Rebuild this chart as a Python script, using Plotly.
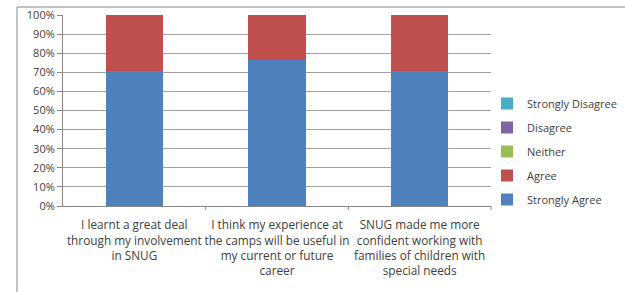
import plotly.graph_objects as go

categories = [
    "I learnt a great deal<br>through my involvement<br>in SNUG",
    "I think my experience at<br>the camps will be useful in<br>my current or future<br>career",
    "SNUG made me more<br>confident working with<br>families of children with<br>special needs",
]
strongly_agree = [0.706, 0.765, 0.706]
agree = [0.294, 0.235, 0.294]
neither = [0, 0, 0]
disagree = [0, 0, 0]
strongly_disagree = [0, 0, 0]

series = [
    ("Strongly Agree", strongly_agree, "#4F81BD"),
    ("Agree", agree, "#C0504D"),
    ("Neither", neither, "#9BBB59"),
    ("Disagree", disagree, "#8064A2"),
    ("Strongly Disagree", strongly_disagree, "#4BACC6"),
]

fig = go.Figure()
for i, (name, vals, col) in enumerate(series):
    fig.add_trace(go.Bar(x=categories, y=vals, name=name, marker_color=col,
                         marker_line_width=0, legendgroup=name,
                         legendrank=len(series) - i))

W, H = 625, 292
L, R, T, B = 63, 0, 15, 86
PR = 491  # plot right edge in px
pw, ph = W - L - R, H - T - B
dom = (PR - L) / pw

def px(x):
    return (x - L) / pw

def py(y):
    return (H - B - y) / ph

GRID = "#A0A0A0"
fig.update_layout(
    width=W, height=H,
    margin=dict(l=L, r=R, t=T, b=B, autoexpand=False),
    barmode="stack", bargap=0.6, hovermode=False,
    plot_bgcolor="white", paper_bgcolor="white",
    font=dict(family="Open Sans, Liberation Sans, sans-serif", size=10, color="#404040"),
    showlegend=True,
    legend=dict(traceorder="grouped", x=px(487), xanchor="left", y=py(89), yanchor="top",
                font=dict(size=11), tracegroupgap=5, itemwidth=30,
                bgcolor="rgba(0,0,0,0)"),
    xaxis=dict(domain=[0, dom], showline=True, linecolor="#868686", linewidth=1, ticks="",
               tickfont=dict(size=11.8), tickangle=0, showgrid=False, automargin=False,
               ticklabelstandoff=8),
    yaxis=dict(range=[0, 1], dtick=0.1, tickformat=".0%", showgrid=True,
               gridcolor=GRID, gridwidth=1, showline=True, linecolor="#868686",
               ticks="outside", ticklen=5, tickcolor="#868686", zeroline=False,
               tickfont=dict(size=11), automargin=False),
    shapes=[
        dict(type="rect", xref="paper", yref="paper", x0=px(17), x1=px(640), y0=py(300), y1=py(7),
             line=dict(color="#868686", width=1), fillcolor="rgba(0,0,0,0)", layer="below"),
        dict(type="line", xref="paper", yref="paper", x0=dom/3, x1=dom/3, y0=0, y1=py(210),
             line=dict(color="#868686", width=1)),
        dict(type="line", xref="paper", yref="paper", x0=2*dom/3, x1=2*dom/3, y0=0, y1=py(210),
             line=dict(color="#868686", width=1)),
        dict(type="line", xref="paper", yref="paper", x0=dom, x1=dom, y0=0, y1=py(210),
             line=dict(color="#868686", width=1)),
    ],
)

fig.write_html("out.html", config={"displayModeBar": False},
               post_script="document.body.style.margin='0';")
